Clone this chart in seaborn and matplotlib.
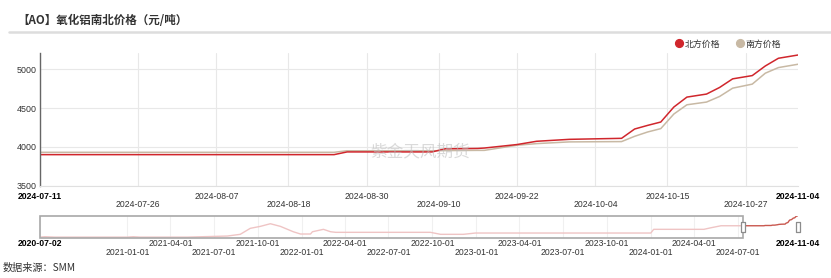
import matplotlib
matplotlib.use('Agg')
import matplotlib.pyplot as plt
import matplotlib.dates as mdates
import matplotlib.transforms as mtransforms
from matplotlib.lines import Line2D
from matplotlib.patches import Rectangle
from matplotlib.path import Path
import seaborn as sns
import pandas as pd

# ---------------- data ----------------
dates = ['2024-07-11', '2024-08-25', '2024-08-27', '2024-09-09', '2024-09-11', '2024-09-16',
         '2024-09-17', '2024-09-22', '2024-09-25', '2024-09-30', '2024-10-08', '2024-10-10',
         '2024-10-12', '2024-10-14', '2024-10-16', '2024-10-18', '2024-10-21', '2024-10-23',
         '2024-10-25', '2024-10-28', '2024-10-30', '2024-11-01', '2024-11-04']
north = [3900, 3900, 3935, 3935, 3975, 3980, 3985, 4030, 4072, 4097, 4110, 4230,
         4277, 4320, 4513, 4641, 4680, 4765, 4876, 4918, 5042, 5141, 5183]
south = [3930, 3930, 3950, 3950, 3952, 3955, 3955, 4021, 4042, 4064, 4068, 4136,
         4192, 4235, 4423, 4542, 4577, 4649, 4756, 4808, 4949, 5021, 5064]
series_names = ['北方价格', '南方价格']

# history shown in the zoom slider (北方价格 before the selected window)
hist_dates = ['2020-07-02', '2020-07-12', '2020-08-02', '2020-12-31', '2021-01-13', '2021-01-28',
              '2021-05-06', '2021-07-29', '2021-08-25', '2021-09-15', '2021-10-06', '2021-10-27',
              '2021-11-17', '2021-12-14', '2021-12-29', '2022-01-19', '2022-01-23', '2022-02-15',
              '2022-03-02', '2022-03-13', '2022-09-27', '2022-10-18', '2022-12-05', '2022-12-30',
              '2024-01-01', '2024-01-07', '2024-04-21', '2024-05-06', '2024-05-27', '2024-07-11']
hist_vals = [2440, 2492, 2440, 2440, 2492, 2440, 2440, 2580, 2800, 3570, 3820, 4160,
             3820, 3130, 2840, 2840, 3130, 3440, 3130, 3055, 3055, 2800, 2800, 2966,
             2966, 3440, 3440, 3644, 3900, 3900]

main_row1 = ['2024-07-11', '2024-08-07', '2024-08-30', '2024-09-22', '2024-10-15', '2024-11-04']
main_row2 = ['2024-07-26', '2024-08-18', '2024-09-10', '2024-10-04', '2024-10-27']
y_ticks = [3500, 4000, 4500, 5000]
slider_row1 = ['2020-07-02', '2021-04-01', '2021-10-01', '2022-04-01', '2022-10-01',
               '2023-04-01', '2023-10-01', '2024-04-01', '2024-11-04']
slider_row2 = ['2021-01-01', '2021-07-01', '2022-01-01', '2022-07-01', '2023-01-01',
               '2023-07-01', '2024-01-01', '2024-07-01']

RED = '#d0262c'
BEIGE = '#c8b9a4'
CJK = ['Noto Sans CJK SC', 'DejaVu Sans']

# ---------------- figure ----------------
sns.set_style('white')
plt.rcParams['font.family'] = ['Liberation Sans', 'Noto Sans CJK SC', 'DejaVu Sans']

W, H = 831, 278
fig = plt.figure(figsize=(W / 100, H / 100), dpi=100, facecolor='white')


def fx(px):
    return px / W


def fy(py):
    return 1 - py / H


# ---------------- main axes ----------------
ax = fig.add_axes([fx(40), fy(185.7), (798 - 40) / W, (185.7 - 53.3) / H])
n = len(dates)
df = pd.DataFrame({
    'date': pd.to_datetime(dates + dates),
    'price': north + south,
    'series': [series_names[0]] * n + [series_names[1]] * n,
})
sns.lineplot(data=df, x='date', y='price', hue='series', hue_order=series_names[::-1],
             palette={series_names[0]: RED, series_names[1]: BEIGE},
             linewidth=1.1, legend=False, ax=ax)

ax.set_xlim(pd.Timestamp(dates[0]), pd.Timestamp(dates[-1]))
ax.set_ylim(3500, 5205)
ax.set_yticks(y_ticks)
ax.set_xticks(mdates.date2num(pd.to_datetime(main_row1)), labels=main_row1)
ax.set_xticks(mdates.date2num(pd.to_datetime(main_row2)), labels=main_row2, minor=True)
ax.tick_params(axis='x', which='major', length=0, pad=4.3, labelsize=6.2, labelcolor='#333333')
ax.tick_params(axis='x', which='minor', length=0, pad=10.2, labelsize=6.2, labelcolor='#333333')
ax.tick_params(axis='y', length=0, pad=2.5, labelsize=6.4, labelcolor='#333333')
ax.set_xlabel('')
ax.set_ylabel('')
ax.grid(True, which='both', axis='x', color='#e8e8e8', lw=0.8)
ax.grid(True, which='major', axis='y', color='#e8e8e8', lw=0.8)
ax.xaxis.get_major_ticks()[-1].gridline.set_visible(False)
for s in ['top', 'right']:
    ax.spines[s].set_visible(False)
ax.spines['left'].set_color('#666666')
ax.spines['left'].set_linewidth(1.0)
ax.spines['bottom'].set_color('#e0e0e0')
ax.spines['bottom'].set_linewidth(0.8)
lbls = ax.get_xticklabels()
for lb in (lbls[0], lbls[-1]):
    lb.set_fontweight('bold')
    lb.set_color('black')

ax.text(0.501, 0.258, '紫金天风期货', transform=ax.transAxes, ha='center', va='center',
        fontsize=12, color='#bdbdbd', alpha=0.55, family=CJK, zorder=5)

handles = [Line2D([], [], marker='o', ls='', color=RED, markersize=5.6),
           Line2D([], [], marker='o', ls='', color=BEIGE, markersize=5.6)]
leg = ax.legend(handles=handles, labels=series_names, loc='center left',
                bbox_to_anchor=(fx(675), fy(44)), bbox_transform=fig.transFigure,
                frameon=False, ncol=2, handlelength=0.9, handletextpad=0.22,
                columnspacing=1.72, borderpad=0, borderaxespad=0,
                prop={'family': CJK, 'size': 6.4})
for t in leg.get_texts():
    t.set_color('#333333')

# ---------------- slider axes ----------------
sax = fig.add_axes([fx(40), fy(238.3), (798 - 40) / W, 22.6 / H])
hdf = pd.DataFrame({'date': pd.to_datetime(hist_dates), 'price': hist_vals})
sdf = pd.DataFrame({'date': pd.to_datetime(dates), 'price': north})
sns.lineplot(data=hdf, x='date', y='price', color='#efc4c4', linewidth=1.0, ax=sax)
sns.lineplot(data=sdf, x='date', y='price', color='#c9584f', linewidth=1.0, ax=sax)
sax.set_xlim(pd.Timestamp(hist_dates[0]), pd.Timestamp(dates[-1]))
sax.set_ylim(2290, 5190)
sax.set_yticks([])
sax.set_xlabel('')
sax.set_ylabel('')
sax.set_xticks(mdates.date2num(pd.to_datetime(slider_row1)), labels=slider_row1)
sax.set_xticks(mdates.date2num(pd.to_datetime(slider_row2)), labels=slider_row2, minor=True)
sax.tick_params(axis='x', which='major', length=0, pad=0.5, labelsize=6.2, labelcolor='#333333')
sax.tick_params(axis='x', which='minor', length=0, pad=6.9, labelsize=6.2, labelcolor='#333333')
sax.grid(True, which='both', axis='x', color='#f0f0f0', lw=0.8)
sax.xaxis.get_major_ticks()[-1].gridline.set_visible(False)
for s in sax.spines.values():
    s.set_visible(False)
slbls = sax.get_xticklabels()
for lb in (slbls[0], slbls[-1]):
    lb.set_fontweight('bold')
    lb.set_color('black')

blend = mtransforms.blended_transform_factory(sax.transData, sax.transAxes)
x0 = mdates.date2num(pd.Timestamp(hist_dates[0]))
x1 = mdates.date2num(pd.Timestamp(dates[0]))
x2 = mdates.date2num(pd.Timestamp(dates[-1]))
sax.add_patch(Rectangle((x0, 0), x1 - x0, 1, transform=blend, fill=False,
                        edgecolor='#a8a8a8', lw=1.2, clip_on=False, zorder=3))
handle_path = Path([(-0.2, -0.5), (0.2, -0.5), (0.2, 0.5), (-0.2, 0.5), (-0.2, -0.5)],
                   [Path.MOVETO, Path.LINETO, Path.LINETO, Path.LINETO, Path.CLOSEPOLY])
sax.plot([x1, x2], [0.5, 0.5], transform=blend, ls='', marker=handle_path, markersize=7.4,
         markerfacecolor='white', markeredgecolor='#8c8c8c', markeredgewidth=0.9,
         clip_on=False, zorder=4)

# ---------------- title, rule, source ----------------
fig.text(fx(17), fy(20), '【AO】氧化铝南北价格（元/吨）', fontsize=8.3, fontweight='bold',
         family=CJK, ha='left', va='center', color='#333333')
fig.add_artist(Line2D([fx(9), 1], [fy(32), fy(32)], color='#dddddd', lw=1.8))
fig.text(fx(3), fy(268), '数据来源：SMM', fontsize=7.3, family=CJK, ha='left', va='center',
         color='#333333')

fig.savefig('out.png', dpi=100, facecolor='white')
